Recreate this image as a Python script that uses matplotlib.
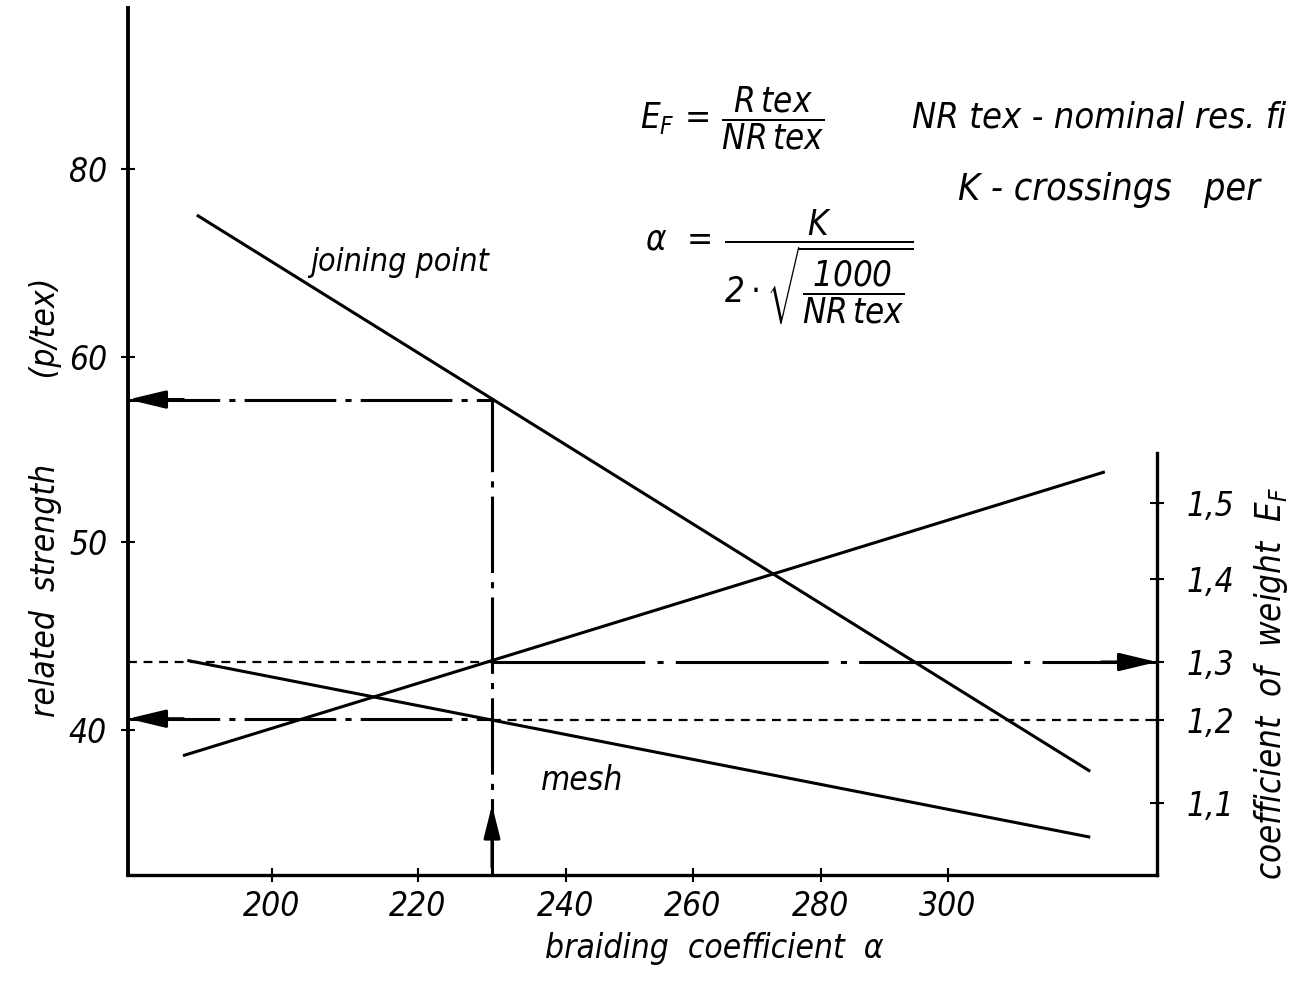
import numpy as np
import matplotlib
matplotlib.use("Agg")
import matplotlib.pyplot as plt

# ---------------- data ----------------
alpha_ticks = [200, 220, 240, 260, 280, 300]
strength_ticks = [40, 50, 60, 80]
strength_tick_labels = ["40", "50", "60", "80"]
ef_ticks = [1.1, 1.2, 1.3, 1.4, 1.5]
ef_tick_labels = ["1,1", "1,2", "1,3", "1,4", "1,5"]

joining_alpha = [189.7, 322.4]
joining_strength = [75.1, 37.8]
mesh_alpha = [188.4, 322.4]
mesh_strength = [43.7, 34.3]
weight_alpha = [187.8, 324.7]
weight_ef = [1.157, 1.541]

alpha_read = 230
strength_join_read = 57.7
strength_mesh_read = 40.6
ef_read = 1.3
ef_mesh_read = 1.2

# ---------------- hand-drawn graduation of the axes ----------------
# (relative spacing of the printed tick marks, measured on the drawing)
X_GRAD_POS = [272, 418, 566, 693, 821, 948]
YL_GRAD_POS = [271, 459, 644, 832]
YR_GRAD_POS = [198, 281, 339, 422, 498]


def graduation(vals, pos):
    vals = np.asarray(vals, float)
    pos = np.asarray(pos, float)
    s0 = (pos[1] - pos[0]) / (vals[1] - vals[0])
    s1 = (pos[-1] - pos[-2]) / (vals[-1] - vals[-2])

    def fwd(v):
        v = np.asarray(v, float)
        out = np.interp(v, vals, pos)
        out = np.where(v < vals[0], pos[0] + (v - vals[0]) * s0, out)
        out = np.where(v > vals[-1], pos[-1] + (v - vals[-1]) * s1, out)
        return out

    def inv(p):
        p = np.asarray(p, float)
        out = np.interp(p, pos, vals)
        out = np.where(p < pos[0], vals[0] + (p - pos[0]) / s0, out)
        out = np.where(p > pos[-1], vals[-1] + (p - pos[-1]) / s1, out)
        return out

    return fwd, inv


fx, ix = graduation(alpha_ticks, X_GRAD_POS)
fl, il = graduation(strength_ticks, YL_GRAD_POS)
fr, ir = graduation(ef_ticks, YR_GRAD_POS)

# ---------------- style ----------------
plt.rcParams["font.family"] = ["DejaVu Sans"]
plt.rcParams["font.style"] = "italic"
plt.rcParams["font.stretch"] = "condensed"
plt.rcParams["mathtext.fontset"] = "custom"
plt.rcParams["mathtext.rm"] = "DejaVu Sans:italic"
plt.rcParams["mathtext.it"] = "DejaVu Sans:italic"
plt.rcParams["mathtext.bf"] = "DejaVu Sans:italic:bold"

W, H = 1292, 1001
fig = plt.figure(figsize=(W / 100, H / 100), dpi=100)
fig.patch.set_facecolor("white")
L, R, B, T = 128, 1157, 126, 993
ax = fig.add_axes([L / W, B / H, (R - L) / W, (T - B) / H])
ax.set_xscale("function", functions=(fx, ix))
ax.set_yscale("function", functions=(fl, il))
x0, x1 = float(ix(L)), float(ix(R))
ax.set_xlim(x0, x1)
ax.set_ylim(float(il(B)), float(il(T)))

ax2 = ax.twinx()
ax2.set_yscale("function", functions=(fr, ir))
ax2.set_ylim(float(ir(B)), float(ir(T)))

LW = 2.2
k = "black"

# main lines
ax.plot(joining_alpha, joining_strength, color=k, lw=LW, solid_capstyle="butt")
ax.plot(mesh_alpha, mesh_strength, color=k, lw=LW, solid_capstyle="butt")
ax2.plot(weight_alpha, weight_ef, color=k, lw=LW, solid_capstyle="butt")

# construction / read-out lines
dashdot_long = (0, (30, 3, 2, 3))
thin_dash = (0, (4, 3))
ax.plot([alpha_read, alpha_read], [ax.get_ylim()[0], strength_join_read],
        color=k, lw=LW, ls=(0, (25, 3, 2, 3)))
ax.plot([x0, alpha_read], [strength_join_read, strength_join_read],
        color=k, lw=LW, ls=dashdot_long)
ax.plot([x0, alpha_read], [strength_mesh_read, strength_mesh_read],
        color=k, lw=LW, ls=dashdot_long)
ax2.plot([x0, alpha_read], [ef_read, ef_read], color=k, lw=1.6, ls=thin_dash)
ax2.plot([alpha_read, x1], [ef_read, ef_read], color=k, lw=LW, ls=(0, (50, 4, 2, 4)))
ax2.plot([alpha_read, x1], [ef_mesh_read, ef_mesh_read], color=k, lw=1.6, ls=thin_dash)

# arrow heads
aprops = dict(arrowstyle="-|>,head_length=23,head_width=5.5", mutation_scale=1,
              color=k, lw=LW, shrinkA=0, shrinkB=0)
ax.annotate("", xy=(x0, strength_join_read), xytext=(40, 0),
            textcoords="offset points", arrowprops=aprops, annotation_clip=False)
ax.annotate("", xy=(x0, strength_mesh_read), xytext=(40, 0),
            textcoords="offset points", arrowprops=aprops, annotation_clip=False)
ax2.annotate("", xy=(x1, ef_read), xytext=(-40, 0),
             textcoords="offset points", arrowprops=aprops, annotation_clip=False)
ax.annotate("", xy=(alpha_read, float(il(H - 805))), xytext=(0, -45),
            textcoords="offset points",
            arrowprops=dict(aprops, arrowstyle="-|>,head_length=20,head_width=5"),
            annotation_clip=False)

# spines
for s in ["top", "right"]:
    ax.spines[s].set_visible(False)
ax.spines["left"].set_linewidth(2.8)
ax.spines["bottom"].set_linewidth(2.4)
for s in ["top", "left", "bottom"]:
    ax2.spines[s].set_visible(False)
ax2.spines["right"].set_linewidth(2.4)
ax2.spines["right"].set_bounds(ax2.get_ylim()[0], float(ir(H - 453)))

# ticks
TFS = 24
ax.set_xticks(alpha_ticks, [str(v) for v in alpha_ticks])
ax.set_yticks(strength_ticks, strength_tick_labels)
ax2.set_yticks(ef_ticks, ef_tick_labels)
ax.xaxis.set_minor_locator(matplotlib.ticker.NullLocator())
ax.yaxis.set_minor_locator(matplotlib.ticker.NullLocator())
ax2.yaxis.set_minor_locator(matplotlib.ticker.NullLocator())
ax.tick_params(axis="x", direction="inout", length=10, width=1.5, labelsize=TFS, pad=6)
ax.tick_params(axis="y", direction="inout", length=10, width=1.5, labelsize=TFS, pad=10)
ax2.tick_params(axis="y", direction="inout", length=10, width=1.5, labelsize=TFS, pad=16)

# axis labels
ax.set_xlabel("braiding  coefficient  α", fontsize=24)
ax.xaxis.set_label_coords(0.570, -0.066)
ax.set_ylabel("related  strength         (p/tex)", fontsize=24)
ax.yaxis.set_label_coords(-0.064, 0.436)
ax2.set_ylabel(r"coefficient  of  weight  $E_F$", fontsize=25)
ax2.yaxis.set_label_coords(1.092, 0.221)

# annotations on the plot
ax.text(217.5, 70.1, "joining point", fontsize=23, ha="center", va="center")
ax.text(242.5, 37.3, "mesh", fontsize=24, ha="center", va="center")

fig.text(640 / W, 1 - 118 / H, r"$E_F\,=\,\dfrac{R\,tex}{NR\,tex}$",
         fontsize=25, ha="left", va="center")
fig.text(912 / W, 1 - 118 / H, "NR tex - nominal res. fi",
         fontsize=26, ha="left", va="center")
fig.text(958 / W, 1 - 190 / H, "K - crossings   per",
         fontsize=27, ha="left", va="center")
fig.text(645 / W, 1 - 267 / H,
         r"$\alpha\ \,=\,\dfrac{K}{2\cdot\sqrt{\dfrac{1000}{NR\,tex}}}$",
         fontsize=25, ha="left", va="center")

fig.savefig("out.png", dpi=100, facecolor="white")
